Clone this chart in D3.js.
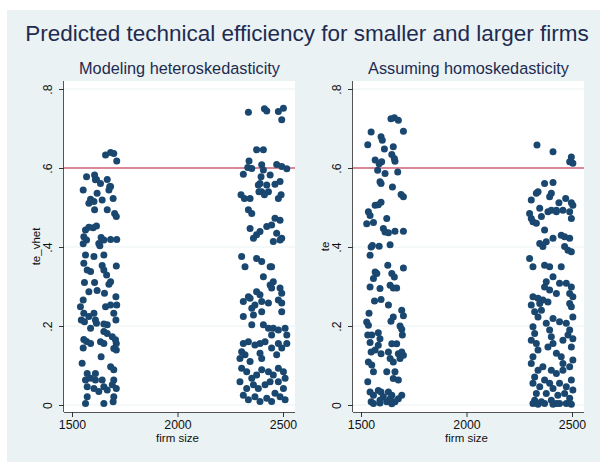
<!DOCTYPE html>
<html>
<head>
<meta charset="utf-8">
<script src="https://cdn.jsdelivr.net/npm/d3@7"></script>
<style>
  body { margin: 0; background: #fff; }
  svg { display: block; font-family: "Liberation Sans", Arial, sans-serif; }
</style>
</head>
<body>
<div id="chart"></div>
<script>
// [firm size, predicted te]
const hetSmall = [
  [1659,0.633],[1683,0.639],[1698,0.637],[1712,0.618],[1569,0.578],[1607,0.582],[1616,0.571],[1635,0.561],
  [1667,0.571],[1679,0.553],[1553,0.544],[1619,0.536],[1588,0.521],[1604,0.515],[1580,0.511],[1643,0.519],
  [1607,0.494],[1667,0.494],[1695,0.523],[1702,0.485],[1710,0.477],[1683,0.553],[1675,0.544],[1611,0.570],
  [1564,0.443],[1580,0.450],[1600,0.449],[1616,0.453],[1556,0.426],[1569,0.418],[1553,0.408],[1638,0.424],
  [1651,0.418],[1627,0.409],[1683,0.419],[1712,0.419],[1632,0.403],[1564,0.380],[1604,0.376],[1556,0.359],
  [1651,0.380],[1572,0.342],[1588,0.338],[1643,0.353],[1710,0.352],[1651,0.342],[1664,0.329],[1683,0.312],
  [1675,0.306],[1559,0.310],[1607,0.310],[1580,0.287],[1619,0.290],[1654,0.283],[1553,0.266],[1540,0.249],
  [1556,0.232],[1544,0.215],[1559,0.211],[1580,0.224],[1604,0.232],[1611,0.215],[1616,0.207],[1659,0.249],
  [1683,0.253],[1708,0.274],[1712,0.253],[1698,0.232],[1708,0.215],[1667,0.203],[1651,0.205],[1588,0.194],
  [1556,0.166],[1569,0.161],[1588,0.156],[1651,0.186],[1667,0.181],[1691,0.173],[1706,0.165],[1710,0.156],
  [1635,0.160],[1651,0.156],[1698,0.143],[1710,0.139],[1638,0.122],[1553,0.144],[1548,0.106],[1683,0.097],
  [1698,0.089],[1572,0.080],[1564,0.063],[1588,0.068],[1611,0.080],[1611,0.063],[1643,0.063],[1698,0.063],
  [1691,0.051],[1572,0.046],[1604,0.042],[1651,0.046],[1667,0.038],[1710,0.042],[1627,0.034],[1698,0.021],
  [1572,0.021],[1564,0.004],[1651,0.004],[1695,0.008]
];

const hetLarge = [
  [2336,0.741],[2412,0.750],[2423,0.744],[2478,0.743],[2502,0.751],[2494,0.722],[2375,0.646],[2407,0.646],
  [2339,0.618],[2333,0.601],[2312,0.584],[2352,0.599],[2399,0.608],[2407,0.595],[2396,0.578],[2439,0.582],
  [2470,0.609],[2494,0.604],[2518,0.598],[2486,0.566],[2462,0.559],[2423,0.557],[2391,0.561],[2386,0.540],
  [2383,0.557],[2431,0.540],[2301,0.532],[2317,0.523],[2344,0.523],[2336,0.494],[2352,0.485],[2491,0.532],
  [2478,0.523],[2399,0.540],[2412,0.532],[2344,0.447],[2360,0.422],[2375,0.431],[2391,0.439],[2423,0.452],
  [2446,0.456],[2462,0.473],[2486,0.468],[2470,0.435],[2486,0.418],[2494,0.422],[2454,0.414],[2304,0.376],
  [2320,0.350],[2375,0.371],[2399,0.363],[2407,0.325],[2439,0.350],[2446,0.350],[2454,0.312],[2439,0.304],
  [2446,0.296],[2486,0.296],[2494,0.283],[2375,0.287],[2391,0.279],[2336,0.274],[2344,0.270],[2312,0.262],
  [2352,0.245],[2367,0.253],[2399,0.262],[2431,0.258],[2478,0.266],[2494,0.258],[2494,0.236],[2399,0.236],
  [2360,0.228],[2312,0.224],[2352,0.203],[2407,0.203],[2431,0.194],[2454,0.194],[2478,0.190],[2510,0.194],
  [2518,0.177],[2446,0.177],[2415,0.160],[2391,0.156],[2367,0.152],[2336,0.160],[2312,0.156],[2304,0.135],
  [2320,0.127],[2296,0.118],[2344,0.110],[2391,0.131],[2399,0.118],[2446,0.144],[2478,0.156],[2494,0.144],
  [2470,0.127],[2518,0.156],[2304,0.093],[2328,0.084],[2352,0.068],[2375,0.076],[2399,0.089],[2431,0.084],
  [2454,0.076],[2478,0.093],[2502,0.084],[2510,0.068],[2478,0.059],[2439,0.059],[2415,0.051],[2383,0.042],
  [2360,0.051],[2328,0.042],[2312,0.025],[2336,0.013],[2367,0.021],[2391,0.009],[2423,0.017],[2462,0.030],
  [2486,0.021],[2510,0.013],[2502,0.042],[2296,0.059],[2446,0.009]
];

const homSmall = [
  [1642,0.725],[1658,0.727],[1677,0.721],[1701,0.693],[1548,0.691],[1532,0.659],[1595,0.679],[1601,0.670],
  [1611,0.648],[1653,0.654],[1646,0.634],[1658,0.624],[1661,0.617],[1567,0.620],[1586,0.611],[1598,0.616],
  [1579,0.594],[1614,0.586],[1674,0.590],[1590,0.565],[1595,0.561],[1649,0.552],[1690,0.533],[1701,0.527],
  [1535,0.489],[1543,0.480],[1567,0.506],[1582,0.507],[1595,0.513],[1527,0.459],[1559,0.462],[1622,0.472],
  [1606,0.447],[1614,0.438],[1630,0.436],[1661,0.440],[1701,0.440],[1638,0.406],[1586,0.402],[1548,0.400],
  [1543,0.379],[1554,0.404],[1627,0.354],[1701,0.347],[1567,0.337],[1575,0.333],[1559,0.320],[1646,0.333],
  [1658,0.324],[1543,0.299],[1590,0.295],[1638,0.303],[1653,0.296],[1669,0.296],[1564,0.263],[1595,0.267],
  [1630,0.253],[1538,0.232],[1527,0.210],[1535,0.202],[1653,0.223],[1642,0.212],[1693,0.240],[1701,0.226],
  [1685,0.200],[1693,0.192],[1696,0.177],[1551,0.177],[1543,0.158],[1532,0.177],[1582,0.183],[1590,0.168],
  [1582,0.151],[1567,0.139],[1548,0.134],[1595,0.130],[1646,0.155],[1669,0.155],[1630,0.134],[1638,0.118],
  [1653,0.109],[1677,0.130],[1693,0.134],[1701,0.126],[1685,0.118],[1535,0.109],[1551,0.101],[1559,0.084],
  [1622,0.084],[1661,0.084],[1653,0.067],[1532,0.059],[1677,0.063],[1543,0.033],[1559,0.025],[1582,0.037],
  [1595,0.033],[1606,0.021],[1630,0.033],[1646,0.025],[1638,0.016],[1661,0.008],[1677,0.016],[1693,0.025],
  [1548,0.008],[1590,0.012],[1622,0.008],[1559,0.004],[1646,0.003],[1590,0.005]
];

const homLarge = [
  [2334,0.658],[2410,0.641],[2497,0.628],[2504,0.612],[2489,0.616],[2370,0.561],[2410,0.563],[2339,0.540],
  [2331,0.536],[2307,0.519],[2402,0.536],[2394,0.527],[2438,0.512],[2470,0.523],[2497,0.512],[2504,0.506],
  [2299,0.485],[2347,0.498],[2386,0.489],[2402,0.493],[2426,0.493],[2457,0.493],[2489,0.489],[2497,0.472],
  [2307,0.472],[2315,0.464],[2331,0.460],[2355,0.477],[2370,0.443],[2362,0.401],[2347,0.409],[2378,0.413],
  [2410,0.422],[2449,0.430],[2465,0.426],[2489,0.422],[2465,0.401],[2481,0.392],[2497,0.388],[2426,0.489],
  [2299,0.371],[2315,0.350],[2370,0.354],[2394,0.350],[2449,0.350],[2410,0.325],[2378,0.312],[2370,0.299],
  [2394,0.291],[2426,0.282],[2441,0.308],[2473,0.308],[2497,0.299],[2489,0.282],[2504,0.274],[2315,0.274],
  [2339,0.270],[2362,0.266],[2307,0.253],[2347,0.257],[2386,0.261],[2489,0.257],[2497,0.249],[2323,0.236],
  [2339,0.223],[2355,0.240],[2410,0.219],[2441,0.211],[2473,0.207],[2504,0.223],[2378,0.207],[2394,0.190],
  [2402,0.173],[2410,0.156],[2386,0.147],[2489,0.190],[2481,0.177],[2457,0.164],[2504,0.168],[2497,0.147],
  [2315,0.198],[2323,0.181],[2307,0.164],[2331,0.156],[2339,0.139],[2315,0.122],[2307,0.105],[2426,0.131],
  [2449,0.122],[2457,0.105],[2504,0.114],[2489,0.097],[2362,0.097],[2402,0.088],[2426,0.080],[2339,0.088],
  [2323,0.071],[2457,0.088],[2315,0.055],[2347,0.046],[2370,0.063],[2394,0.055],[2410,0.042],[2441,0.055],
  [2473,0.046],[2497,0.063],[2504,0.038],[2331,0.029],[2378,0.029],[2433,0.025],[2465,0.029],[2323,0.012],
  [2355,0.008],[2402,0.012],[2426,0.004],[2489,0.017],[2315,0.004],[2339,0.002],[2370,0.004],[2410,0.002],
  [2473,0.004],[2497,0.002],[2441,0.004]
];

const xTicks = [1500, 2000, 2500];
const yTicks = [0, 0.2, 0.4, 0.6, 0.8];
const refLine = 0.6;

const chartTitle = "Predicted technical efficiency for smaller and larger firms";
const panels = [
  {title: "Modeling heteroskedasticity", ytitle: "te_vhet", data: hetSmall.concat(hetLarge), left: 64},
  {title: "Assuming homoskedasticity", ytitle: "te", data: homSmall.concat(homLarge), left: 353}
];

const W = 600, H = 462;
const plotW = 231, plotTop = 81, plotBottom = 412;
const navy = "#1a476f";

const svg = d3.select("#chart").append("svg")
    .attr("width", W)
    .attr("height", H);

svg.append("rect")
    .attr("x", 7).attr("y", 10)
    .attr("width", W - 7).attr("height", H - 10)
    .attr("fill", "#eaf2f3");

svg.append("text")
    .attr("x", 307).attr("y", 41)
    .attr("text-anchor", "middle")
    .attr("font-size", 22.5)
    .attr("fill", "#1e2b50")
    .text(chartTitle);

const y = d3.scaleLinear()
    .domain([0, 0.8])
    .range([405, 89]);

const fmt = d => d === 0 ? "0" : d3.format(".1f")(d).replace(/^0/, "");

panels.forEach(p => {
  const x = d3.scaleLinear()
      .domain([1500, 2500])
      .range([p.left + 8, p.left + 219]);

  const g = svg.append("g");

  g.append("text")
      .attr("x", p.left + plotW / 2)
      .attr("y", 74)
      .attr("text-anchor", "middle")
      .attr("font-size", 16.3)
      .attr("fill", "#1e2b50")
      .text(p.title);

  g.append("rect")
      .attr("x", p.left).attr("y", plotTop)
      .attr("width", plotW).attr("height", plotBottom - plotTop)
      .attr("fill", "#fff");

  // grid
  g.selectAll(".grid")
    .data(yTicks)
    .join("line")
      .attr("x1", p.left).attr("x2", p.left + plotW)
      .attr("y1", d => y(d)).attr("y2", d => y(d))
      .attr("stroke", "#eaf2f3")
      .attr("stroke-width", 1.2);

  g.append("line")
      .attr("x1", p.left).attr("x2", p.left + plotW)
      .attr("y1", y(refLine)).attr("y2", y(refLine))
      .attr("stroke", "#d4607a")
      .attr("stroke-width", 1.6);

  g.append("g")
    .selectAll("circle")
    .data(p.data)
    .join("circle")
      .attr("cx", d => x(d[0]))
      .attr("cy", d => y(d[1]))
      .attr("r", 3.5)
      .attr("fill", navy);

  g.append("g")
      .attr("transform", `translate(0,${plotBottom})`)
      .call(d3.axisBottom(x).tickValues(xTicks).tickFormat(d3.format("d")).tickSize(5).tickSizeOuter(0))
      .call(a => a.select(".domain").attr("d", `M${p.left},0.5H${p.left + plotW}`).attr("stroke", "#555"))
      .call(a => a.selectAll(".tick line").attr("stroke", "#333"))
      .call(a => a.selectAll(".tick text")
          .attr("font-size", 12.3)
          .attr("font-family", "Liberation Sans, Arial, sans-serif")
          .attr("fill", "#111")
          .attr("dy", "0.71em")
          .attr("y", 8));

  g.append("g")
      .attr("transform", `translate(${p.left},0)`)
      .call(d3.axisLeft(y).tickValues(yTicks).tickFormat(fmt).tickSize(5).tickSizeOuter(0))
      .call(a => a.select(".domain").attr("d", `M-0.5,${plotTop}V${plotBottom}`).attr("stroke", "#555"))
      .call(a => a.selectAll(".tick line").attr("stroke", "#333"))
      .call(a => a.selectAll(".tick text")
          .attr("font-size", 12.3)
          .attr("font-family", "Liberation Sans, Arial, sans-serif")
          .attr("fill", "#111")
          .attr("x", null).attr("dy", null)
          .attr("text-anchor", "middle")
          .attr("transform", "translate(-12,0) rotate(-90)"));

  g.append("text")
      .attr("x", x(2000))
      .attr("y", 442)
      .attr("text-anchor", "middle")
      .attr("font-size", 11.5)
      .attr("fill", "#111")
      .text("firm size");

  g.append("text")
      .attr("transform", `translate(${p.left - 24},${(plotTop + plotBottom) / 2}) rotate(-90)`)
      .attr("text-anchor", "middle")
      .attr("font-size", 11.5)
      .attr("fill", "#111")
      .text(p.ytitle);
});
</script>
</body>
</html>
